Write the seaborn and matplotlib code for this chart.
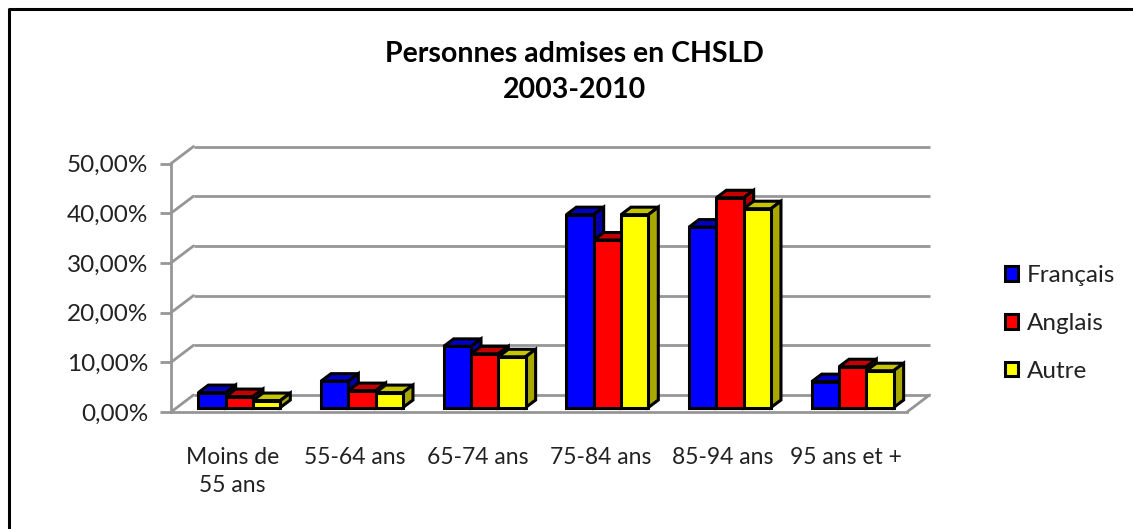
import numpy as np
import pandas as pd
import seaborn as sns
import matplotlib.pyplot as plt
from matplotlib.patches import Polygon, Rectangle
from matplotlib.lines import Line2D
from matplotlib.transforms import Affine2D, IdentityTransform

groupes = ['Moins de\n55 ans', '55-64 ans', '65-74 ans', '75-84 ans', '85-94 ans', '95 ans et +']
francais = [3.0, 5.3, 12.3, 38.8, 36.3, 5.2]
anglais = [2.2, 3.4, 10.8, 33.7, 42.2, 8.2]
autre = [1.4, 3.0, 10.2, 38.8, 40.0, 7.4]
yticks = [0, 10, 20, 30, 40, 50]
ytick_labels = ['0,00%', '10,00%', '20,00%', '30,00%', '40,00%', '50,00%']

W, H = 1133, 529
couleurs = {'Français': '#0000ff', 'Anglais': '#ff0000', 'Autre': '#ffff00'}
dessus = ['#0000c4', '#c40000', '#c4c400']
cote = ['#0000a8', '#a80000', '#a8a800']
gris = '#969696'
texte = '#222222'

df = pd.DataFrame({
    'groupe': groupes * 3,
    'langue': ['Français'] * 6 + ['Anglais'] * 6 + ['Autre'] * 6,
    'valeur': francais + anglais + autre,
})

sns.set_style('white')
plt.rcParams['font.family'] = ['Lato', 'DejaVu Sans']

fig = plt.figure(figsize=(W / 100, H / 100), dpi=100)
ax = fig.add_axes([171 / W, (H - 412) / H, 736 / W, 248.5 / H])
sns.barplot(data=df, x='groupe', y='valeur', hue='langue', palette=couleurs, order=groupes,
            width=0.668, gap=0, saturation=1, legend=False, ax=ax,
            edgecolor='black', linewidth=2.2)

ax.set_xlim(-0.5, 5.5)
ax.set_ylim(0, 50)
ax.set_xlabel('')
ax.set_ylabel('')
ax.set_yticks(yticks)
ax.set_yticklabels(ytick_labels)
ax.set_xticks(range(6))
ax.set_xticklabels(groupes)
ax.set_xticks(np.arange(-0.5, 6), minor=True)
ax.tick_params(axis='x', which='major', length=0, pad=25, labelsize=16.5, labelcolor=texte)
ax.tick_params(axis='x', which='minor', length=8, width=2, color=gris)
ax.tick_params(axis='y', length=8, width=2, color=gris, pad=8.5, labelsize=17.5, labelcolor=texte, left=True)
sns.despine(ax=ax)
for s in ['left', 'bottom']:
    ax.spines[s].set_color(gris)
    ax.spines[s].set_linewidth(2)
ax.patch.set_alpha(0)
for s in ax.get_xticklabels():
    s.set_linespacing(1.4)

# mur du fond et plancher, decales en pixels depuis le plan avant
prof_x, prof_y = 22.5, 17
fond = ax.transData + Affine2D().translate(prof_x, prof_y)
fig.canvas.draw()
ax.hlines(yticks, -0.5, 5.5, color=gris, lw=2, transform=fond, clip_on=False, zorder=1)
for t in yticks:
    x0, y0 = ax.transData.transform((-0.5, t))
    fig.add_artist(Line2D([x0, x0 + prof_x], [y0, y0 + prof_y], color=gris, lw=2,
                          transform=IdentityTransform(), zorder=0))
x0, y0 = ax.transData.transform((5.5, 0))
fig.add_artist(Line2D([x0, x0 + prof_x], [y0, y0 + prof_y], color=gris, lw=2,
                      transform=IdentityTransform(), zorder=0))

# faces 3D des barres
dx, dy = 7, 4.5
bx, by = 10, 7.5
decale = ax.transData + Affine2D().translate(dx, dy)
barres = [p for p in ax.patches if isinstance(p, Rectangle) and p.get_width() > 0]
for k, p in enumerate(barres):
    h = k // 6
    i = k % 6
    z = 3 + i + h * 0.1
    p.set_transform(decale)
    p.set_zorder(z + 0.02)
    p.set_clip_on(False)
    (xa, ya), (xb, yb) = decale.transform([(p.get_x(), 0), (p.get_x() + p.get_width(), p.get_height())])
    haut = [(xa, yb), (xb, yb), (xb + bx, yb + by), (xa + bx, yb + by)]
    droite = [(xb, ya), (xb + bx, ya + by), (xb + bx, yb + by), (xb, yb)]
    ax.add_patch(Polygon(haut, closed=True, fc=dessus[h], ec='black', lw=2.2,
                         transform=IdentityTransform(), zorder=z, clip_on=False))
    ax.add_patch(Polygon(droite, closed=True, fc=cote[h], ec='black', lw=2.2,
                         transform=IdentityTransform(), zorder=z, clip_on=False))

fig.suptitle('Personnes admises en CHSLD\n2003-2010', x=574 / W, y=1 - 41 / H, va='top',
             fontsize=20.5, fontweight='bold', color='black', linespacing=1.47)

poignees = [Rectangle((0, 0), 1, 1, fc=c, ec='black', lw=2.2) for c in couleurs.values()]
fig.legend(poignees, list(couleurs.keys()), loc='center left', bbox_to_anchor=(983 / W, 1 - 323.5 / H),
           frameon=False, fontsize=17.5, handlelength=0.55, handleheight=0.55, handletextpad=0.35,
           labelspacing=1.1, labelcolor=texte)

# cadre de l'image : haut et gauche seulement visibles jusqu'au bord
fig.add_artist(Line2D([9 / W, 9 / W, 1], [0, 1 - 9 / H, 1 - 9 / H], color='black', lw=2.2,
                      transform=fig.transFigure))

fig.savefig('out.png', dpi=100)
